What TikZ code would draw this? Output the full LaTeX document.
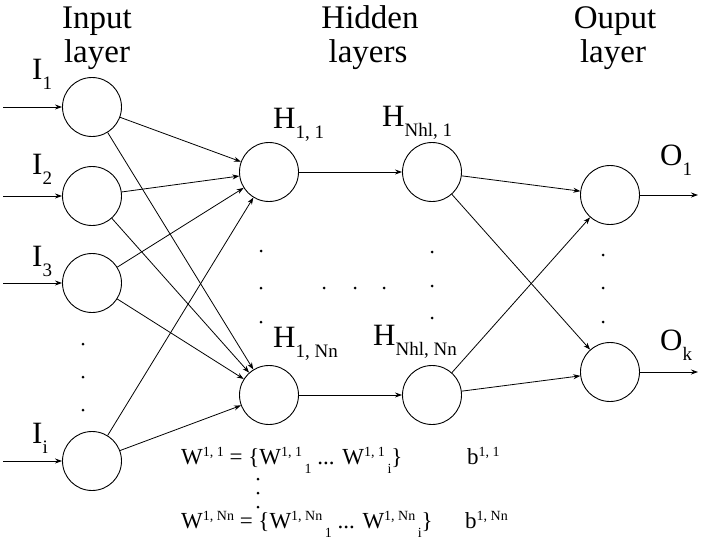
\documentclass[tikz,border=0pt]{standalone}
\usepackage{fontspec}
\setmainfont{Liberation Serif}
\usetikzlibrary{arrows.meta}
\newcommand{\lsub}[1]{\raisebox{-10pt}{\fontsize{19}{19}\selectfont #1}}
\newcommand{\fsup}[1]{\raisebox{8pt}{\fontsize{14}{14}\selectfont #1}}
\newcommand{\fsub}[1]{\hspace{2.5pt}\raisebox{-9pt}{\fontsize{14}{14}\selectfont #1}}
\begin{document}
\begin{tikzpicture}[x=1pt,y=-1pt,
  neuron/.style={circle,draw,line width=0.9pt,minimum size=59pt,inner sep=0pt},
  conn/.style={line width=0.8pt,-{Stealth[length=7pt,width=5pt]}},
  lbl/.style={anchor=base west,inner sep=0pt,font=\fontsize{31}{31}\selectfont},
  hdr/.style={anchor=base,inner sep=0pt,font=\fontsize{33}{33}\selectfont},
  dot/.style={circle,fill,inner sep=0pt,minimum size=3pt},
  frm/.style={anchor=base west,inner sep=0pt,font=\fontsize{23}{23}\selectfont}]
\useasboundingbox (0,0) rectangle (702,546);

% headers
\node[hdr] (h1a) at (97,28) {Input};
\node[hdr] (h1b) at (97,62) {layer};
\node[hdr] (h2a) at (370,28) {Hidden};
\node[hdr] (h2b) at (368,62) {layers};
\node[hdr] (h3a) at (615,28) {Ouput};
\node[hdr] (h3b) at (613,62) {layer};

% neurons
\node[neuron] (I1) at (92,107) {};
\node[neuron] (I2) at (92,196) {};
\node[neuron] (I3) at (92,283) {};
\node[neuron] (Ii) at (92,461) {};
\node[neuron] (H11) at (269,172) {};
\node[neuron] (H1n) at (269,395) {};
\node[neuron] (HN1) at (432,172) {};
\node[neuron] (HNn) at (432,395) {};
\node[neuron] (O1) at (610,195) {};
\node[neuron] (Ok) at (610,372) {};

% labels
\node[lbl] (lI1) at (32,79) {I\lsub{1}};
\node[lbl] (lI2) at (32,174) {I\lsub{2}};
\node[lbl] (lI3) at (32,266) {I\lsub{3}};
\node[lbl] (lIi) at (32,443) {I\lsub{i}};
\node[lbl] (lH11) at (273,128) {H\lsub{1, 1}};
\node[lbl] (lH1n) at (273,347) {H\lsub{1, Nn}};
\node[lbl] (lHN1) at (382,126) {H\lsub{Nhl, 1}};
\node[lbl] (lHNn) at (373,345) {H\lsub{Nhl, Nn}};
\node[lbl] (lO1) at (660,165) {O\lsub{1}};
\node[lbl] (lOk) at (660,350) {O\lsub{k}};

% input arrows
\coordinate (a1) at (3,107);
\coordinate (a2) at (3,196);
\coordinate (a3) at (3,283);
\coordinate (ai) at (3,461);
\draw[conn] (a1) -- (I1);
\draw[conn] (a2) -- (I2);
\draw[conn] (a3) -- (I3);
\draw[conn] (ai) -- (Ii);

% input -> hidden
\foreach \s in {I1,I2,I3,Ii} {
  \draw[conn] (\s) -- (H11);
  \draw[conn] (\s) -- (H1n);
}
\draw[conn] (H11) -- (HN1);
\draw[conn] (H1n) -- (HNn);
\foreach \s in {HN1,HNn} {
  \draw[conn] (\s) -- (O1);
  \draw[conn] (\s) -- (Ok);
}
\coordinate (b1) at (698,195);
\coordinate (bk) at (698,372);
\draw[conn] (O1) -- (b1);
\draw[conn] (Ok) -- (bk);

% dots
\foreach \y [count=\k] in {344,377,410} \node[dot] (di\k) at (83,\y) {};
\foreach \y [count=\k] in {251,288,322} \node[dot] (dh\k) at (261,\y) {};
\foreach \x [count=\k] in {324,355,384} \node[dot] (dm\k) at (\x,288) {};
\foreach \y [count=\k] in {252,286,318} \node[dot] (dn\k) at (432,\y) {};
\foreach \y [count=\k] in {255,288,322} \node[dot] (do\k) at (603,\y) {};
\foreach \y [count=\k] in {479,493,507} \node[dot] (dw\k) at (258,\y) {};

% formulas
\node[frm] (w1) at (181,464) {W\fsup{1, 1} = \{W\fsup{1, 1}\fsub{1} ... W\fsup{1, 1}\fsub{i}\}};
\node[frm] (w2) at (181,528) {W\fsup{1, Nn} = \{W\fsup{1, Nn}\fsub{1} ... W\fsup{1, Nn}\fsub{i}\}};
\node[frm] (b11) at (467,464) {b\fsup{1, 1}};
\node[frm] (b1n) at (465,528) {b\fsup{1, Nn}};
\end{tikzpicture}
\end{document}
